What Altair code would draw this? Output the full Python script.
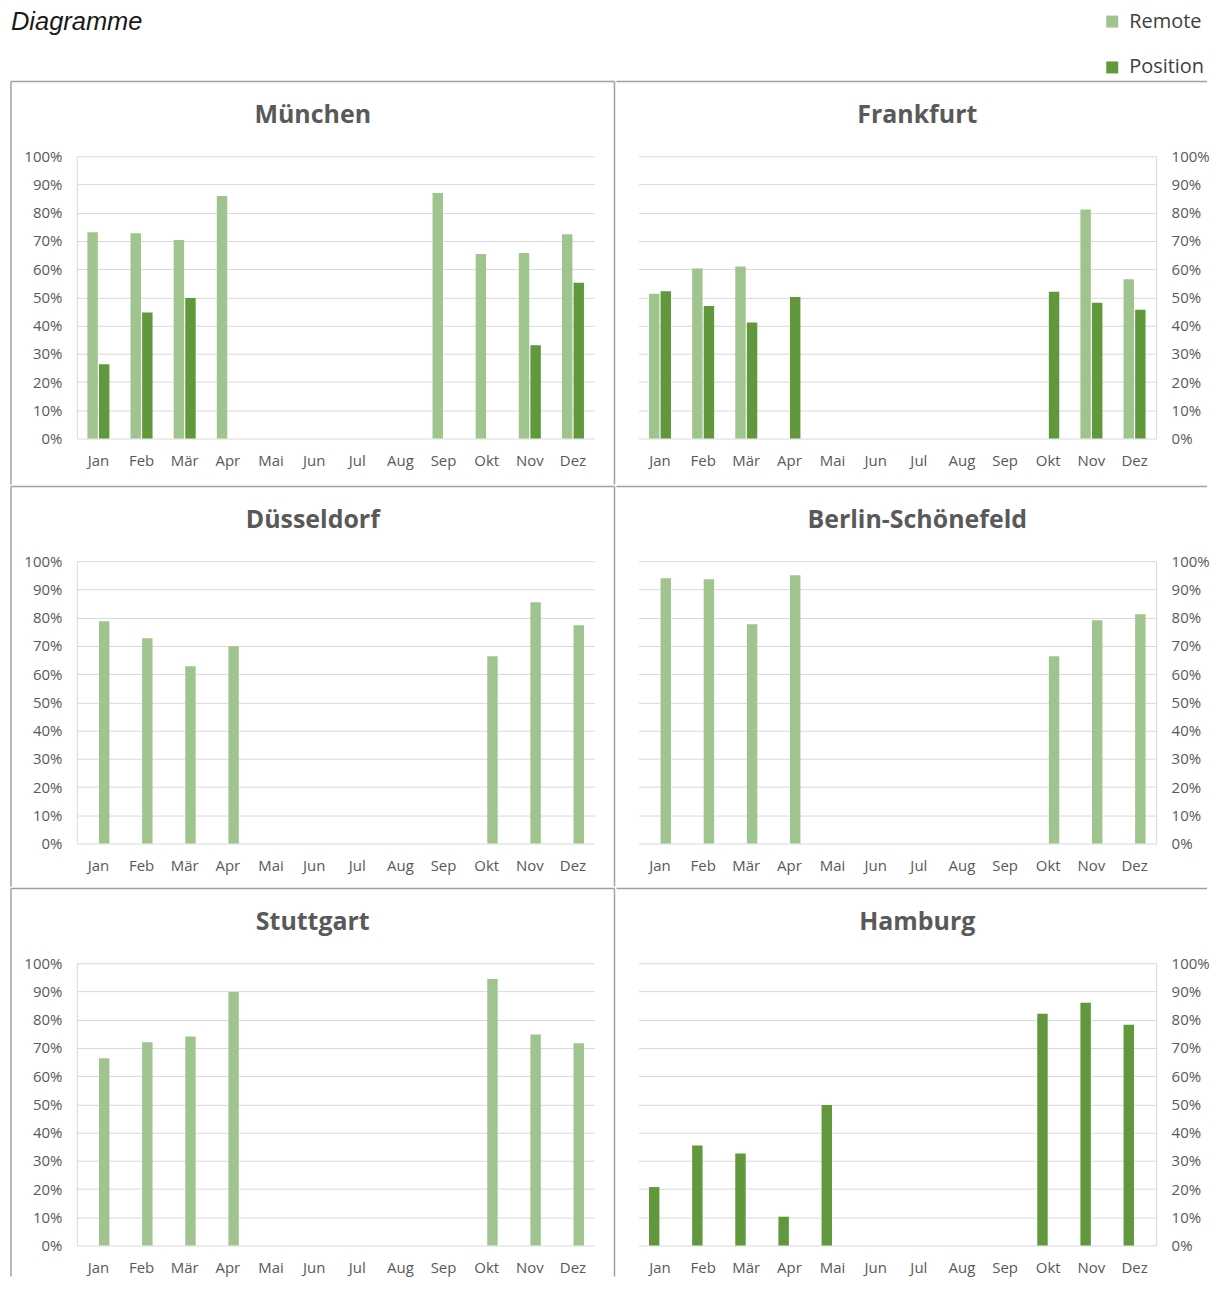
import altair as alt
import pandas as pd

months = ["Jan", "Feb", "Mär", "Apr", "Mai", "Jun", "Jul", "Aug", "Sep", "Okt", "Nov", "Dez"]
series = ["Remote", "Position"]
series_colors = ["#A0C48D", "#60983B"]
y_ticks = [0, 10, 20, 30, 40, 50, 60, 70, 80, 90, 100]
chart_title = "Diagramme"

muenchen_remote = [73.1, 72.7, 70.3, 85.9, None, None, None, None, 87.0, 65.4, 65.7, 72.4]
muenchen_position = [26.3, 44.6, 49.8, None, None, None, None, None, None, None, 33.0, 55.2]

frankfurt_remote = [51.3, 60.2, 60.9, None, None, None, None, None, None, None, 81.1, 56.4]
frankfurt_position = [52.2, 46.9, 41.1, 50.1, None, None, None, None, None, 52.0, 48.1, 45.6]

duesseldorf_remote = [78.7, 72.7, 62.8, 69.9, None, None, None, None, None, 66.3, 85.5, 77.3]
duesseldorf_position = [None, None, None, None, None, None, None, None, None, None, None, None]

berlin_remote = [94.0, 93.6, 77.7, 95.0, None, None, None, None, None, 66.3, 79.1, 81.2]
berlin_position = [None, None, None, None, None, None, None, None, None, None, None, None]

stuttgart_remote = [66.3, 72.0, 74.0, 89.8, None, None, None, None, None, 94.4, 74.7, 71.6]
stuttgart_position = [None, None, None, None, None, None, None, None, None, None, None, None]

hamburg_remote = [None, None, None, None, None, None, None, None, None, None, None, None]
hamburg_position = [20.7, 35.4, 32.6, 10.2, 49.8, None, None, None, None, 82.1, 86.0, 78.2]

GRID = "#D9D9D9"
TEXT = "#595959"
BORDER = "#A0A0A0"
FONT = "Open Sans"
W, H = 519, 283


def make_df(remote, position):
    rows = []
    for m, r, p in zip(months, remote, position):
        if r is not None:
            rows.append({"Monat": m, "Serie": "Remote", "Wert": r})
        if p is not None:
            rows.append({"Monat": m, "Serie": "Position", "Wert": p})
    return pd.DataFrame(rows)


legend = alt.Legend(
    title=None, orient="none", legendX=1028, legendY=-29,
    symbolType="square", symbolSize=144, symbolStrokeWidth=0,
    labelFont=FONT, labelFontSize=20, labelColor="#404040",
    rowPadding=26, labelOffset=7,
)


def panel(name, remote, position, side, offset_order, bottom):
    df = make_df(remote, position)
    bars = alt.Chart(df).mark_bar().encode(
        x=alt.X(
            "Monat:N", sort=months,
            scale=alt.Scale(domain=months, paddingInner=0.49, paddingOuter=0.245),
            axis=alt.Axis(title=None, domain=False, ticks=False, grid=False, labelAngle=0,
                          labelPadding=15, labelFont=FONT, labelFontSize=15, labelColor=TEXT),
        ),
        xOffset=alt.XOffset("Serie:N", scale=alt.Scale(domain=offset_order, paddingInner=0.1, paddingOuter=0)),
        y=alt.Y(
            "Wert:Q", scale=alt.Scale(domain=[0, 100], nice=False),
            axis=alt.Axis(title=None, orient=side, values=y_ticks, labelExpr="datum.value + '%'",
                          ticks=False, domain=True, domainColor=GRID, grid=True, gridColor=GRID,
                          labelPadding=15, labelFont=FONT, labelFontSize=15, labelColor=TEXT),
        ),
        color=alt.Color("Serie:N", scale=alt.Scale(domain=series, range=series_colors), legend=legend),
    )
    one = pd.DataFrame({"Standort": [name]})
    if side == "left":
        x0, x1, cx = -66, 539, 236.5
    else:
        x0, x1, cx = -22, 570, 279.5
    layers = [bars]
    layers.append(alt.Chart(one).mark_rule(color=BORDER, strokeWidth=1.5).encode(
        x=alt.value(x0), x2=alt.value(x1), y=alt.value(-75)))
    if side == "left":
        layers.append(alt.Chart(one).mark_rule(color=BORDER, strokeWidth=1.5).encode(
            x=alt.value(x0), y=alt.value(-75), y2=alt.value(bottom)))
        layers.append(alt.Chart(one).mark_rule(color=BORDER, strokeWidth=1.5).encode(
            x=alt.value(x1), y=alt.value(-75), y2=alt.value(bottom)))
    else:
        layers.append(alt.Chart(one).mark_rule(color=BORDER, strokeWidth=1.5, opacity=0).encode(
            x=alt.value(x0), y=alt.value(-75), y2=alt.value(bottom)))
    layers.append(alt.Chart(one).mark_text(font=FONT, fontSize=25, fontWeight="bold", color=TEXT,
                                           align="center", baseline="middle").encode(
        text="Standort:N", x=alt.value(cx), y=alt.value(-41)))
    return alt.layer(*layers).properties(width=W, height=H)


two = ["Remote", "Position"]
single = ["Position", "Remote"]

title_df = pd.DataFrame({"Titel": [chart_title]})
header = alt.layer(
    alt.Chart(title_df).mark_text(font="Liberation Sans", fontSize=25.5, fontStyle="italic",
                                  color="#1A1A1A", align="left", baseline="middle").encode(
        text="Titel:N", x=alt.value(-66), y=alt.value(-19)),
    alt.Chart(title_df).mark_rule(opacity=0).encode(
        x=alt.value(0), y=alt.value(-30), y2=alt.value(40)),
).properties(width=10, height=10)

row1 = alt.hconcat(
    panel("München", muenchen_remote, muenchen_position, "left", two, 329),
    panel("Frankfurt", frankfurt_remote, frankfurt_position, "right", two, 329),
    spacing=0,
).resolve_scale(xOffset="independent", x="independent", y="independent")
row2 = alt.hconcat(
    panel("Düsseldorf", duesseldorf_remote, duesseldorf_position, "left", single, 326),
    panel("Berlin-Schönefeld", berlin_remote, berlin_position, "right", single, 326),
    spacing=0,
).resolve_scale(xOffset="independent", x="independent", y="independent")
row3 = alt.hconcat(
    panel("Stuttgart", stuttgart_remote, stuttgart_position, "left", single, 314),
    panel("Hamburg", hamburg_remote, hamburg_position, "right", single, 314),
    spacing=0,
).resolve_scale(xOffset="independent", x="independent", y="independent")

chart = alt.vconcat(header, row1, row2, row3, spacing=0).resolve_scale(
    xOffset="independent", x="independent", y="independent"
).properties(
    padding={"left": 2, "top": 0, "right": 0, "bottom": 0},
).configure_view(stroke=None)

chart.save("out.html", embed_options={"renderer": "svg", "actions": False})
